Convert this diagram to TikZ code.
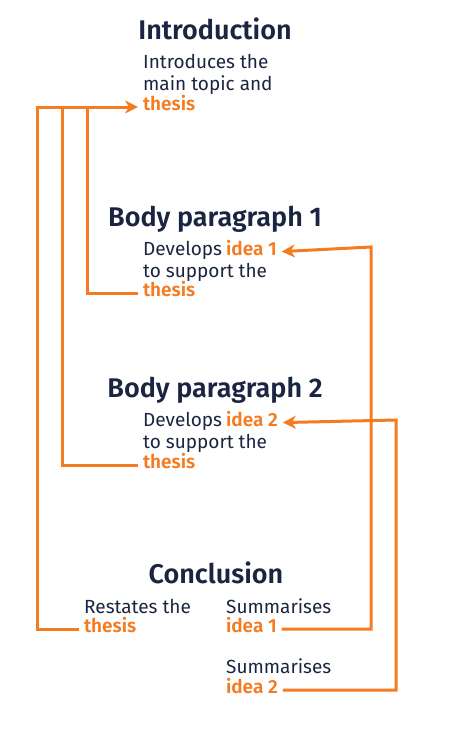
\documentclass[tikz,border=0pt]{standalone}
\usepackage{fontspec}
\setmainfont{Fira Sans}[BoldFont={Fira Sans SemiBold}]
\usetikzlibrary{positioning, arrows.meta}
\definecolor{inkcol}{HTML}{1B2541}
\definecolor{linkcol}{HTML}{F47B20}
\tikzset{
    every node/.style={inner sep=0pt},
    head/.style={
        font=\bfseries\fontsize{27}{30}\selectfont, text=inkcol,
        anchor=base,
    },
    txt/.style={
        font=\fontsize{19}{22.3}\selectfont, text=inkcol,
        anchor=base west,
    },
    key/.style={
        font=\bfseries\fontsize{19}{22.3}\selectfont, text=linkcol,
        text height=1.3ex, text depth=0pt, outer xsep=5pt,
    },
    link/.style={draw=linkcol, line width=3pt},
    arr/.style={link, -{Stealth[length=13pt, width=13pt, inset=4pt]}},
}
\begin{document}
\begin{tikzpicture}[x=1pt, y=-1pt]
\useasboundingbox (0,0) rectangle (460,732);

% ── Introduction ─────────────────────────────────────────────────
\node[head] (intro) at (215,39) {Introduction};
\node[txt] (introtxt) at (143,68) {Introduces the};
\node[txt] (introtxt2) at (143,90) {main topic and};
\node[key, anchor=west] (introthesis) at (138,107) {thesis};

% ── Body paragraph 1 ─────────────────────────────────────────────
\node[head] (body1) at (215,226) {Body paragraph 1};
\node[txt] (dev1) at (143,255) {Develops};
\node[key, base right=-5pt of dev1] (idea1) {\hspace{0.2em}idea 1};
\node[txt] (supp1) at (143,277) {to support the};
\node[key, anchor=west] (thesis1) at (138,293) {thesis};

% ── Body paragraph 2 ─────────────────────────────────────────────
\node[head] (body2) at (215,397) {Body paragraph 2};
\node[txt] (dev2) at (143,426) {Develops};
\node[key, base right=-5pt of dev2] (idea2) {\hspace{0.2em}idea 2};
\node[txt] (supp2) at (143,448) {to support the};
\node[key, anchor=west] (thesis2) at (138,465) {thesis};

% ── Conclusion ───────────────────────────────────────────────────
\node[head] (concl) at (216,583) {Conclusion};
\node[txt] (restate) at (84,613) {Restates the};
\node[key, anchor=west] (cthesis) at (79,629) {thesis};
\node[txt] (summ1) at (226,613) {Summarises};
\node[key, anchor=west] (cidea1) at (221,629) {idea 1};
\node[txt] (summ2) at (226,673) {Summarises};
\node[key, anchor=west] (cidea2) at (221,690) {idea 2};

% ── Rails ────────────────────────────────────────────────────────
\coordinate (railA) at (37,107);
\coordinate (railB) at (62,107);
\coordinate (railC) at (87,107);
\coordinate (railD) at (371,247);
\coordinate (railE) at (396,420);

% ── thesis links (left) ──────────────────────────────────────────
\draw[arr] (cthesis.west) -| (railA) -- (introthesis.west);
\draw[link] (thesis2.west) -| (railB);
\draw[link] (thesis1.west) -| (railC);

% ── idea links (right) ───────────────────────────────────────────
\draw[arr] (cidea1.east) -| (railD) -- (idea1.east);
\draw[arr] (cidea2.east) -| (railE) -- (idea2.east);

\end{tikzpicture}
\end{document}
